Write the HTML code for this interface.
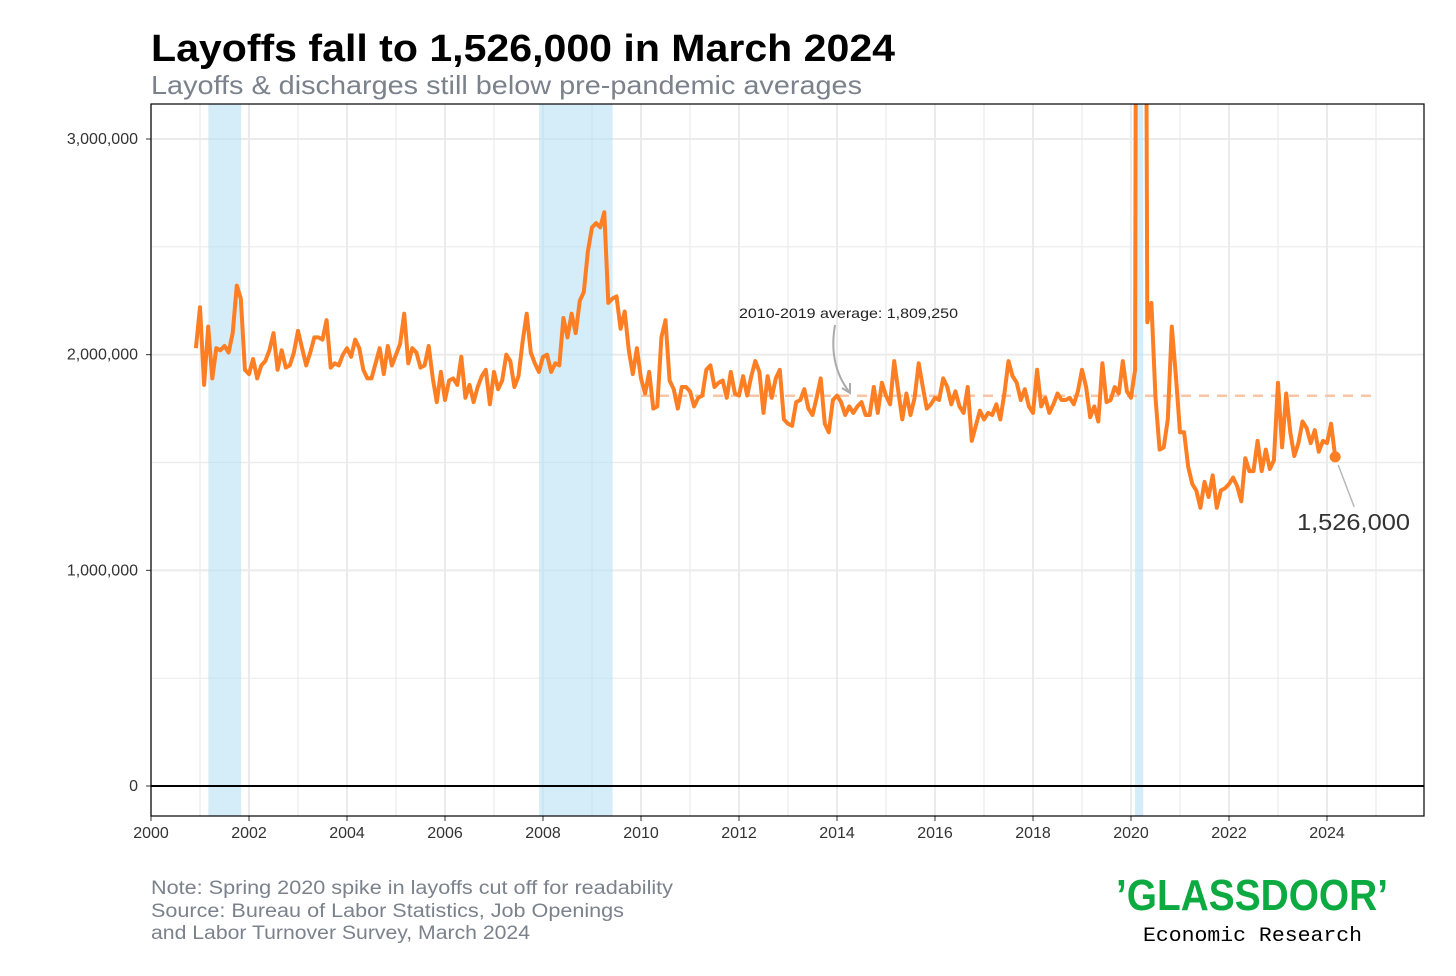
<!DOCTYPE html>
<html><head><meta charset="utf-8"><style>
body{margin:0;background:#fff;width:1456px;height:971px;overflow:hidden;font-family:"Liberation Sans",sans-serif}
</style></head><body>
<svg id="chart" width="1456" height="971">
<text x="151" y="61" font-size="38" font-weight="bold" fill="#000" textLength="744" lengthAdjust="spacingAndGlyphs">Layoffs fall to 1,526,000 in March 2024</text>
<text x="151" y="94" font-size="26" fill="#7b828c" textLength="711" lengthAdjust="spacingAndGlyphs">Layoffs &amp; discharges still below pre-pandemic averages</text>
<g id="grid"></g><g id="bands"></g><g id="marks"></g>
<text x="151" y="894" font-size="19" fill="#7b828c" textLength="522" lengthAdjust="spacingAndGlyphs">Note: Spring 2020 spike in layoffs cut off for readability</text>
<text x="151" y="917" font-size="19" fill="#7b828c" textLength="473" lengthAdjust="spacingAndGlyphs">Source: Bureau of Labor Statistics, Job Openings</text>
<text x="151" y="939" font-size="19" fill="#7b828c" textLength="379" lengthAdjust="spacingAndGlyphs">and Labor Turnover Survey, March 2024</text>
<text x="1116" y="910" font-size="44" font-weight="bold" fill="#0caa41" textLength="272" lengthAdjust="spacingAndGlyphs">’GLASSDOOR’</text>
<text x="1143" y="941" font-size="20" font-family="Liberation Mono, monospace" fill="#000" textLength="219" lengthAdjust="spacingAndGlyphs">Economic Research</text>
</svg>
<script>
const yearsTicks=[2000,2002,2004,2006,2008,2010,2012,2014,2016,2018,2020,2022,2024];
const yTicks=[0,1000000,2000000,3000000];
const yTickLabels=["0","1,000,000","2,000,000","3,000,000"];
const recessions=[[2001.17,2001.84],[2007.92,2009.42],[2020.08,2020.25]];
const average=1809250;
const startYear=2000, startMonth=12;
const layoffs=[2030,
2220,1860,2130,1890,2030,2020,2040,2010,2100,2320,2260,1930,
1910,1980,1890,1950,1970,2020,2100,1930,2020,1940,1950,2010,
2110,2030,1950,2010,2080,2080,2070,2160,1940,1960,1950,2000,
2030,1990,2070,2030,1930,1890,1890,1960,2030,1910,2040,1950,
2000,2050,2190,1960,2030,2010,1940,1950,2040,1890,1780,1920,
1790,1880,1890,1860,1990,1800,1860,1780,1850,1900,1930,1770,
1920,1840,1880,2000,1970,1850,1900,2060,2190,2010,1960,1920,
1990,2000,1920,1960,1950,2170,2080,2190,2100,2250,2290,2480,
2590,2610,2590,2660,2240,2260,2270,2120,2200,2020,1910,2030,
1890,1820,1920,1750,1760,2080,2160,1880,1840,1750,1850,1850,
1830,1760,1800,1810,1930,1950,1850,1870,1880,1800,1920,1820,
1810,1900,1810,1900,1970,1920,1730,1900,1800,1890,1930,1700,
1680,1670,1780,1790,1840,1750,1720,1800,1890,1680,1640,1790,
1810,1780,1720,1760,1730,1760,1780,1720,1720,1850,1730,1870,
1810,1770,1970,1830,1700,1820,1720,1800,1960,1850,1750,1770,
1800,1790,1890,1850,1770,1830,1760,1730,1850,1600,1670,1740,
1700,1730,1720,1770,1700,1820,1970,1900,1870,1790,1840,1760,
1730,1930,1760,1800,1730,1770,1820,1790,1790,1800,1770,1830,
1930,1850,1710,1760,1690,1960,1780,1790,1850,1820,1970,1830,
1800,1930,11000,7500,2150,2240,1800,1560,1570,1700,2130,1900,
1640,1640,1480,1400,1370,1290,1410,1340,1440,1290,1370,1380,
1400,1430,1390,1320,1520,1460,1460,1600,1460,1560,1470,1510,
1870,1570,1820,1640,1530,1590,1690,1660,1590,1650,1550,1600,
1590,1680,1526];
const L=151,R=1424,T=104,B=816;
const X=y=>151+(y-2000)*49;
const Y=v=>786-v/1000000*215.67;
const NS="http://www.w3.org/2000/svg";
function mk(parent,tag,attrs){const e=document.createElementNS(NS,tag);for(const k in attrs)e.setAttribute(k,attrs[k]);parent.appendChild(e);return e;}
const grid=document.getElementById('grid'),bands=document.getElementById('bands'),marks=document.getElementById('marks');
for(let y=2000;y<=2025;y++){const l=mk(grid,'line',{x1:X(y),x2:X(y),y1:T,y2:B,stroke:'#ebebeb','stroke-width':y%2?1.2:2});
}
for(let v=0;v<=3000000;v+=500000){const l=mk(grid,'line',{x1:L,x2:R,y1:Y(v),y2:Y(v),stroke:'#ebebeb','stroke-width':v%1000000?1.2:2});
}
yTicks.forEach((v,i)=>{const t=mk(grid,'text',{x:138,y:Y(v)+5,'text-anchor':'end','font-size':16,fill:'#333'});t.textContent=yTickLabels[i];

const k=mk(grid,'line',{x1:146,x2:151,y1:Y(v),y2:Y(v),stroke:'#333'});});
yearsTicks.forEach(y=>{const t=mk(grid,'text',{x:X(y),y:838,'text-anchor':'middle','font-size':16,fill:'#333'});t.textContent=y;

const k=mk(grid,'line',{x1:X(y),x2:X(y),y1:816,y2:821,stroke:'#333'});});
recessions.forEach(r=>{const b=mk(bands,'rect',{x:X(r[0]),y:T,width:X(r[1])-X(r[0]),height:B-T,fill:'#b9e0f5','fill-opacity':0.6});
});
const z=mk(marks,'line',{x1:L,x2:R,y1:Y(0),y2:Y(0),stroke:'#000','stroke-width':2});
const av=mk(marks,'line',{x1:X(2010),x2:X(2025),y1:Y(average),y2:Y(average),stroke:'#f9c4a6','stroke-width':2.5,'stroke-dasharray':'10 8'});

const cp=mk(marks,'clipPath',{id:'clip'});mk(cp,'rect',{x:L,y:T,width:R-L,height:B-T});
const pts=layoffs.map((v,i)=>{const yr=startYear+(startMonth-1+i)/12;return X(yr).toFixed(1)+','+Y(v*1000).toFixed(1);});
const pl=mk(marks,'polyline',{points:pts.join(' '),fill:'none',stroke:'#fd7e23','stroke-width':4,'stroke-linejoin':'round','clip-path':'url(#clip)'});

const n=layoffs.length-1,lx=X(startYear+(startMonth-1+n)/12),ly=Y(layoffs[n]*1000);
const dot=mk(marks,'circle',{cx:lx,cy:ly,r:5.5,fill:'#fd7e23'});
const cl=mk(marks,'line',{x1:lx+3,y1:ly+8,x2:lx+19,y2:ly+50,stroke:'#b5b9be','stroke-width':1.5});
const lt=mk(marks,'text',{x:1297,y:530,'font-size':23,fill:'#333',textLength:113,lengthAdjust:'spacingAndGlyphs'});lt.textContent=(layoffs[n]*1000).toLocaleString('en-US');

const at=mk(marks,'text',{x:739,y:318,'font-size':14,fill:'#222',textLength:219,lengthAdjust:'spacingAndGlyphs'});at.textContent='2010-2019 average: 1,809,250';

const ar=mk(marks,'path',{d:'M835,325 Q828,365 850,393 M842,388 L850,393 L850,383',fill:'none',stroke:'#aaa','stroke-width':2});

const fr=mk(marks,'rect',{x:L,y:T,width:R-L,height:B-T,fill:'none',stroke:'#000','stroke-width':1.2});

</script>
</body></html>
